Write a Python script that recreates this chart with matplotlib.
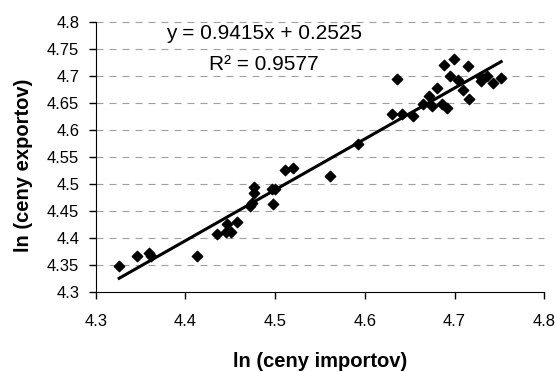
import matplotlib
matplotlib.use("Agg")
import matplotlib.pyplot as plt
import numpy as np

plt.rcParams['font.family'] = ['Liberation Sans', 'DejaVu Sans']

# ln of import prices vs ln of export prices
ln_import = [4.326, 4.346, 4.359, 4.362, 4.413, 4.435, 4.446, 4.445, 4.451, 4.457,
             4.472, 4.474, 4.476, 4.476, 4.496, 4.500, 4.498, 4.511, 4.520, 4.561,
             4.592, 4.630, 4.636, 4.641, 4.654, 4.665, 4.671, 4.675, 4.680, 4.686,
             4.692, 4.688, 4.695, 4.699, 4.704, 4.710, 4.716, 4.715, 4.729, 4.730,
             4.736, 4.743, 4.752]
ln_export = [4.348, 4.367, 4.372, 4.367, 4.367, 4.407, 4.426, 4.412, 4.412, 4.430,
             4.459, 4.465, 4.495, 4.484, 4.490, 4.490, 4.463, 4.526, 4.529, 4.515,
             4.574, 4.630, 4.694, 4.630, 4.626, 4.649, 4.663, 4.644, 4.677, 4.648,
             4.640, 4.720, 4.700, 4.731, 4.693, 4.674, 4.657, 4.719, 4.699, 4.690,
             4.700, 4.687, 4.696]

slope = 0.9415
intercept = 0.2525
eq_text = "y = 0.9415x + 0.2525"
r2_text = "R² = 0.9577"

x_ticks = [4.3, 4.4, 4.5, 4.6, 4.7, 4.8]
x_labels = ["4.3", "4.4", "4.5", "4.6", "4.7", "4.8"]
y_ticks = [4.3, 4.35, 4.4, 4.45, 4.5, 4.55, 4.6, 4.65, 4.7, 4.75, 4.8]
y_labels = ["4.3", "4.35", "4.4", "4.45", "4.5", "4.55", "4.6", "4.65", "4.7", "4.75", "4.8"]

fig = plt.figure(figsize=(5.57, 3.72), dpi=100)
ax = fig.add_axes([0.172, 0.215, 0.805, 0.726])

for yv in y_ticks[1:]:
    ax.axhline(yv, color='#a0a0a0', lw=0.8, ls=(0, (6.3, 5.4)), zorder=0, clip_on=False)

ax.scatter(ln_import, ln_export, marker='D', s=28, color='black', zorder=3)

xs = np.array([min(ln_import), max(ln_import)])
ax.plot(xs, slope * xs + intercept, color='black', lw=2.2, zorder=2)

ax.set_xlim(4.3, 4.8)
ax.set_ylim(4.3, 4.8)
ax.set_xticks(x_ticks)
ax.set_xticklabels(x_labels)
ax.set_yticks(y_ticks)
ax.set_yticklabels(y_labels)
ax.tick_params(axis='both', labelsize=12, direction='out', length=5, width=1)
ax.tick_params(axis='x', pad=11)
ax.tick_params(axis='y', pad=7)
ax.spines['top'].set_visible(False)
ax.spines['right'].set_visible(False)

ax.set_xlabel("ln (ceny importov)", fontsize=14.5, fontweight='bold')
ax.set_ylabel("ln (ceny exportov)", fontsize=14.5, fontweight='bold')
ax.xaxis.set_label_coords(0.5, -0.222)
ax.yaxis.set_label_coords(-0.141, 0.47)

ax.text(4.4875, 4.779, eq_text, fontsize=15, ha='center', va='center')
ax.text(4.4875, 4.721, r2_text, fontsize=15, ha='center', va='center')

fig.savefig("out.png", dpi=100)
